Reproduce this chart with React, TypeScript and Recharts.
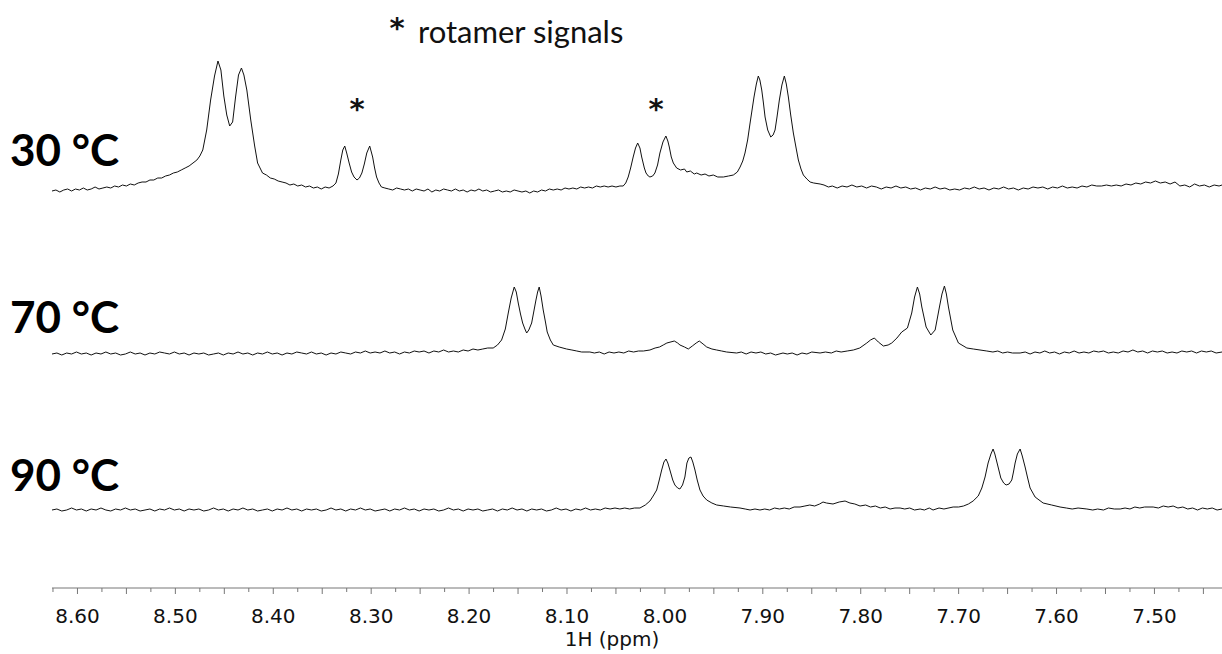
import React from 'react';
import { ComposedChart, Line, XAxis, YAxis } from 'recharts';

// [ppm, intensity] – intensity in a.u. above each trace's own baseline
const spectrum30C: [number, number][] = [
  [8.626,-1],[8.622,0],[8.618,-2],[8.614,0],[8.610,1],[8.606,-1],[8.602,1],[8.598,0],[8.594,2],[8.590,0],
  [8.586,1],[8.582,3],[8.578,1],[8.574,2],[8.570,3],[8.566,2],[8.562,4],[8.558,3],[8.554,5],[8.550,4],
  [8.546,6],[8.542,5],[8.538,7],[8.534,8],[8.530,8],[8.526,10],[8.522,10],[8.518,12],[8.514,12],[8.510,14],
  [8.506,15],[8.502,17],[8.498,18],[8.494,20],[8.490,22],[8.486,24],[8.482,27],[8.478,30],[8.475,34],[8.472,40],
  [8.468,60],[8.464,90],[8.460,114],[8.4565,129],[8.4535,120],[8.4505,94],[8.4475,75],[8.4445,64],[8.4415,68],[8.4385,93],
  [8.4355,115],[8.4325,122],[8.430,115],[8.427,100],[8.423,70],[8.419,44],[8.416,27],[8.411,17],[8.407,15],[8.403,12],
  [8.399,11],[8.395,9],[8.391,8],[8.387,7],[8.383,5],[8.379,6],[8.375,4],[8.371,5],[8.367,3],[8.363,4],
  [8.359,2],[8.355,3],[8.351,1],[8.347,3],[8.343,2],[8.339,4],[8.336,7],[8.3335,16],[8.331,30],[8.329,40],
  [8.327,44],[8.325,37],[8.3225,27],[8.320,18],[8.3175,13],[8.3145,10],[8.312,12],[8.3095,17],[8.307,26],[8.3045,37],
  [8.3015,44],[8.2985,33],[8.2965,22],[8.2945,13],[8.292,7],[8.2895,3],[8.286,2],[8.282,1],[8.278,0],[8.274,2],
  [8.270,1],[8.266,0],[8.262,1],[8.258,-1],[8.254,1],[8.250,0],[8.246,-1],[8.242,1],[8.238,-2],[8.234,0],
  [8.230,-1],[8.226,1],[8.222,0],[8.218,-1],[8.214,1],[8.210,-1],[8.206,0],[8.202,-2],[8.198,0],[8.194,-1],
  [8.190,1],[8.186,-1],[8.182,0],[8.178,-2],[8.174,-1],[8.170,0],[8.166,-2],[8.162,-1],[8.158,-2],[8.154,0],
  [8.150,-1],[8.146,-2],[8.142,-1],[8.138,-3],[8.134,-1],[8.130,-2],[8.126,0],[8.122,-1],[8.118,1],[8.114,0],
  [8.110,1],[8.106,0],[8.102,2],[8.098,1],[8.094,2],[8.090,1],[8.086,3],[8.082,2],[8.078,3],[8.074,2],
  [8.070,4],[8.066,3],[8.062,4],[8.058,3],[8.054,4],[8.050,3],[8.046,4],[8.0426,4],[8.040,7],[8.0375,13],
  [8.035,22],[8.0324,33],[8.030,42],[8.0278,47],[8.0255,42],[8.0237,33],[8.021,22],[8.0193,17],[8.017,14],[8.0153,13],
  [8.0125,14],[8.0102,17],[8.0075,25],[8.0051,37],[8.002,48],[7.999,54],[7.997,49],[7.9955,43],[7.9935,33],[7.9914,27],
  [7.988,22],[7.984,20],[7.980,21],[7.9777,18],[7.974,19],[7.970,16],[7.9675,17],[7.963,15],[7.959,16],[7.955,14],
  [7.9506,15],[7.946,13],[7.9403,13],[7.935,14],[7.9301,15],[7.926,18],[7.9232,23],[7.9205,29],[7.9182,37],[7.9155,50],
  [7.913,67],[7.909,93],[7.9066,106],[7.9046,114],[7.903,110],[7.9011,100],[7.8995,88],[7.8977,73],[7.895,60],[7.8919,53],
  [7.8895,55],[7.8875,60],[7.8855,73],[7.8831,90],[7.8805,105],[7.878,114],[7.876,106],[7.8739,93],[7.8715,75],[7.8688,57],
  [7.866,42],[7.8637,30],[7.861,21],[7.8586,15],[7.855,11],[7.8517,8],[7.848,7],[7.8415,6],[7.8375,5],[7.833,3],
  [7.829,4],[7.824,2],[7.819,4],[7.814,3],[7.809,5],[7.804,3],[7.799,4],[7.794,2],[7.789,4],[7.784,3],
  [7.779,1],[7.774,3],[7.769,2],[7.764,4],[7.759,2],[7.754,3],[7.749,1],[7.744,2],[7.739,0],[7.734,2],
  [7.729,1],[7.724,3],[7.719,1],[7.714,2],[7.709,0],[7.704,1],[7.699,0],[7.694,2],[7.689,1],[7.684,3],
  [7.679,1],[7.674,2],[7.669,0],[7.664,2],[7.659,1],[7.654,3],[7.649,1],[7.644,2],[7.639,0],[7.634,2],
  [7.629,1],[7.624,3],[7.619,2],[7.614,3],[7.609,1],[7.604,3],[7.599,2],[7.594,4],[7.589,2],[7.584,3],
  [7.579,2],[7.574,4],[7.569,3],[7.564,5],[7.559,4],[7.554,4],[7.549,5],[7.544,4],[7.539,5],[7.534,4],
  [7.529,6],[7.524,5],[7.519,7],[7.514,6],[7.509,8],[7.504,7],[7.499,9],[7.494,7],[7.489,8],[7.484,6],
  [7.479,8],[7.474,4],[7.469,5],[7.464,3],[7.459,6],[7.454,4],[7.449,5],[7.444,3],[7.439,5],[7.434,4],[7.431,5],
];

const spectrum70C: [number, number][] = [
  [8.626,0],[8.621,1],[8.616,-1],[8.611,1],[8.606,0],[8.601,2],[8.596,0],[8.591,1],[8.586,-1],[8.581,1],
  [8.576,0],[8.571,2],[8.566,0],[8.561,1],[8.556,-1],[8.551,0],[8.546,2],[8.541,0],[8.536,1],[8.531,-1],
  [8.526,1],[8.521,0],[8.516,2],[8.511,1],[8.506,0],[8.501,2],[8.496,0],[8.491,1],[8.486,-1],[8.481,1],
  [8.476,0],[8.471,1],[8.466,-1],[8.461,0],[8.456,1],[8.451,-1],[8.446,1],[8.441,0],[8.436,2],[8.431,0],
  [8.426,1],[8.421,-1],[8.416,1],[8.411,0],[8.406,2],[8.401,0],[8.396,1],[8.391,-1],[8.386,1],[8.381,0],
  [8.376,2],[8.371,1],[8.366,0],[8.361,2],[8.356,0],[8.351,1],[8.346,-1],[8.341,1],[8.336,0],[8.331,2],
  [8.326,1],[8.321,0],[8.316,2],[8.311,1],[8.306,3],[8.301,1],[8.296,2],[8.291,1],[8.286,3],[8.281,1],
  [8.276,2],[8.271,0],[8.266,2],[8.261,1],[8.256,3],[8.251,2],[8.246,3],[8.241,1],[8.236,3],[8.231,2],
  [8.226,4],[8.221,2],[8.216,3],[8.211,2],[8.206,4],[8.201,3],[8.196,5],[8.191,4],[8.186,5],[8.181,6],
  [8.1754,6],[8.171,9],[8.1668,14],[8.163,25],[8.160,41],[8.157,56],[8.1539,67],[8.1518,62],[8.1498,51],[8.1475,40],
  [8.1453,31],[8.143,25],[8.1412,21],[8.139,24],[8.1361,31],[8.134,42],[8.1317,54],[8.130,62],[8.1284,67],[8.1265,58],
  [8.1243,44],[8.122,32],[8.1202,22],[8.117,14],[8.114,9],[8.108,7],[8.1004,5],[8.095,4],[8.090,3],[8.085,2],
  [8.0766,2],[8.072,1],[8.067,2],[8.062,0],[8.057,2],[8.052,1],[8.047,2],[8.042,1],[8.037,3],[8.032,2],
  [8.027,3],[8.022,3],[8.0153,4],[8.010,6],[8.0055,7],[8.0017,9],[7.998,11],[7.9904,13],[7.987,11],[7.9846,9],
  [7.980,7],[7.9761,5],[7.972,8],[7.968,11],[7.9649,13],[7.961,10],[7.9573,7],[7.952,5],[7.9471,4],[7.942,3],
  [7.937,2],[7.9267,1],[7.922,2],[7.917,0],[7.912,2],[7.907,1],[7.902,2],[7.897,0],[7.892,1],[7.887,-1],
  [7.8794,1],[7.875,0],[7.870,1],[7.865,-1],[7.860,1],[7.855,0],[7.850,2],[7.8415,1],[7.836,2],[7.830,1],
  [7.825,3],[7.820,2],[7.8138,3],[7.8075,4],[7.801,6],[7.7938,11],[7.790,14],[7.7861,16],[7.782,12],[7.7769,8],
  [7.772,9],[7.7683,11],[7.763,16],[7.7581,22],[7.7523,26],[7.7479,41],[7.745,57],[7.7421,67],[7.7398,60],[7.7376,47],
  [7.7332,27],[7.7284,19],[7.724,24],[7.7196,47],[7.717,60],[7.7145,68],[7.7125,60],[7.7104,47],[7.706,24],[7.7002,11],
  [7.6916,6],[7.685,5],[7.6712,3],[7.665,2],[7.660,3],[7.655,1],[7.650,2],[7.645,1],[7.6372,1],[7.632,2],
  [7.627,0],[7.622,2],[7.617,1],[7.612,3],[7.607,1],[7.602,2],[7.597,0],[7.592,2],[7.587,1],[7.582,3],
  [7.577,1],[7.572,2],[7.567,1],[7.562,3],[7.557,2],[7.552,3],[7.547,1],[7.542,2],[7.537,1],[7.532,3],
  [7.527,2],[7.522,4],[7.517,2],[7.512,3],[7.507,1],[7.502,3],[7.497,2],[7.492,3],[7.487,1],[7.482,2],
  [7.477,1],[7.472,3],[7.467,2],[7.462,3],[7.457,1],[7.452,3],[7.447,2],[7.442,3],[7.437,1],[7.431,2],
];

const spectrum90C: [number, number][] = [
  [8.626,0],[8.621,1],[8.616,-1],[8.611,0],[8.606,2],[8.601,0],[8.596,1],[8.591,-1],[8.586,1],[8.581,0],
  [8.576,2],[8.571,0],[8.566,-1],[8.561,1],[8.556,0],[8.551,2],[8.546,0],[8.541,1],[8.536,-1],[8.531,0],
  [8.526,1],[8.521,-1],[8.516,1],[8.511,0],[8.506,2],[8.501,0],[8.496,1],[8.491,-1],[8.486,1],[8.481,0],
  [8.476,1],[8.471,-1],[8.466,0],[8.461,2],[8.456,0],[8.451,1],[8.446,-1],[8.441,1],[8.436,0],[8.431,2],
  [8.426,0],[8.421,1],[8.416,-1],[8.411,0],[8.406,1],[8.401,-1],[8.396,1],[8.391,0],[8.386,2],[8.381,0],
  [8.376,1],[8.371,-1],[8.366,1],[8.361,0],[8.356,1],[8.351,-1],[8.346,0],[8.341,2],[8.336,0],[8.331,1],
  [8.326,-1],[8.321,1],[8.316,0],[8.311,2],[8.306,0],[8.301,1],[8.296,-1],[8.291,0],[8.286,1],[8.281,-1],
  [8.276,1],[8.271,0],[8.266,2],[8.261,0],[8.256,1],[8.251,-1],[8.246,1],[8.241,0],[8.236,1],[8.231,-1],
  [8.226,0],[8.221,2],[8.216,0],[8.211,1],[8.206,-1],[8.201,1],[8.196,0],[8.191,1],[8.186,-1],[8.181,0],
  [8.176,1],[8.171,-1],[8.166,1],[8.161,0],[8.156,2],[8.151,0],[8.146,1],[8.141,-1],[8.136,1],[8.131,0],
  [8.126,1],[8.121,-1],[8.116,0],[8.111,2],[8.106,0],[8.101,1],[8.096,-1],[8.091,1],[8.086,0],[8.081,2],
  [8.076,0],[8.071,1],[8.066,0],[8.061,2],[8.056,1],[8.051,2],[8.046,1],[8.041,2],[8.036,1],[8.031,2],
  [8.0255,2],[8.020,5],[8.0153,9],[8.012,14],[8.0084,20],[8.006,29],[8.0033,40],[8.001,48],[7.9989,51],[7.997,47],
  [7.9949,40],[7.992,30],[7.9898,25],[7.987,22],[7.9847,21],[7.982,25],[7.9796,33],[7.9775,47],[7.9755,52],[7.9734,53],
  [7.9715,48],[7.9693,40],[7.967,30],[7.9642,20],[7.961,14],[7.9573,10],[7.952,7],[7.9471,5],[7.940,4],[7.933,3],
  [7.9233,2],[7.918,1],[7.913,0],[7.908,1],[7.9029,0],[7.898,1],[7.893,0],[7.888,2],[7.883,1],[7.878,2],
  [7.873,1],[7.868,3],[7.862,3],[7.857,4],[7.852,5],[7.847,4],[7.842,6],[7.8385,8],[7.835,7],[7.8283,6],
  [7.822,8],[7.816,9],[7.811,7],[7.806,6],[7.8007,4],[7.795,5],[7.790,3],[7.785,4],[7.780,2],[7.775,3],
  [7.770,1],[7.765,2],[7.7598,2],[7.755,1],[7.750,2],[7.745,0],[7.7393,1],[7.735,0],[7.730,2],[7.7261,0],
  [7.720,2],[7.715,1],[7.7056,3],[7.700,3],[7.695,4],[7.690,6],[7.6852,9],[7.680,14],[7.6763,22],[7.673,33],
  [7.6699,47],[7.667,56],[7.6648,61],[7.663,56],[7.6607,47],[7.6569,32],[7.654,27],[7.6515,25],[7.6485,26],[7.6457,30],
  [7.644,38],[7.6423,47],[7.640,56],[7.6372,61],[7.635,54],[7.6321,43],[7.6295,32],[7.627,22],[7.6219,13],[7.6137,7],
  [7.605,5],[7.5964,3],[7.590,2],[7.584,1],[7.578,2],[7.569,1],[7.563,0],[7.558,1],[7.552,0],[7.547,2],
  [7.541,1],[7.535,1],[7.530,2],[7.525,1],[7.520,3],[7.515,2],[7.510,3],[7.5013,3],[7.496,2],[7.491,4],
  [7.486,3],[7.4809,4],[7.476,2],[7.471,3],[7.466,1],[7.461,2],[7.456,0],[7.451,2],[7.446,1],[7.441,2],[7.436,0],[7.431,1],
];

const ppmRange = [7.431, 8.626];
const axisTicks = Array.from({ length: 48 }, (_, i) => +(7.45 + i * 0.025).toFixed(3));
const traceLabels = ['30 °C', '70 °C', '90 °C'];

const toRows = (s: [number, number][]) => s.map(([ppm, v]) => ({ ppm, v }));

const PpmTick = (props: any) => {
  const { x, y, payload } = props;
  const k = Math.round(payload.value * 1000);
  const major = k % 50 === 0;
  const labeled = k % 100 === 0;
  return (
    <g>
      <line x1={x} x2={x} y1={y} y2={y + (major ? 6 : 4)} stroke="#777" />
      {labeled && (
        <text x={x} y={y + 35} textAnchor="middle" fontFamily="DejaVu Sans" fontSize={20} fill="#111">
          {payload.value.toFixed(2)}
        </text>
      )}
    </g>
  );
};

export default function App() {
  return (
    <div style={{ position: 'absolute', left: 0, top: 0, width: 1222, height: 654, background: '#fff' }}>
      <ComposedChart width={1222} height={654} margin={{ top: 40, right: 0, bottom: 0, left: 52 }}>
        <XAxis
          type="number"
          dataKey="ppm"
          domain={ppmRange}
          reversed
          allowDataOverflow
          ticks={axisTicks}
          interval={0}
          tickSize={0}
          tickMargin={0}
          tick={<PpmTick />}
          axisLine={{ stroke: '#777' }}
          height={66}
        />
        {/* one hidden y axis per trace, stacked by domain offset */}
        <YAxis yAxisId="t30" hide domain={[-398, 150]} allowDataOverflow />
        <YAxis yAxisId="t70" hide domain={[-234, 314]} allowDataOverflow />
        <YAxis yAxisId="t90" hide domain={[-78, 470]} allowDataOverflow />
        <Line yAxisId="t30" data={toRows(spectrum30C)} dataKey="v" type="linear" dot={false} stroke="#111" strokeWidth={1} isAnimationActive={false} />
        <Line yAxisId="t70" data={toRows(spectrum70C)} dataKey="v" type="linear" dot={false} stroke="#111" strokeWidth={1} isAnimationActive={false} />
        <Line yAxisId="t90" data={toRows(spectrum90C)} dataKey="v" type="linear" dot={false} stroke="#111" strokeWidth={1} isAnimationActive={false} />
      </ComposedChart>
      <svg width={1222} height={654} style={{ position: 'absolute', left: 0, top: 0, pointerEvents: 'none' }}>
        <text x={397} y={38} textAnchor="middle" fontFamily="DejaVu Sans" fontWeight={700} fontSize={29} fill="#111">*</text>
        <text x={418} y={43} fontFamily="Lato" fontSize={31} fill="#111">rotamer signals</text>
        <text x={357} y={119} textAnchor="middle" fontFamily="DejaVu Sans" fontWeight={700} fontSize={29} fill="#111">*</text>
        <text x={656} y={119} textAnchor="middle" fontFamily="DejaVu Sans" fontWeight={700} fontSize={29} fill="#111">*</text>
        <text x={10} y={166} fontFamily="Lato" fontWeight={700} fontSize={44} fill="#000">{traceLabels[0]}</text>
        <text x={10} y={333} fontFamily="Lato" fontWeight={700} fontSize={44} fill="#000">{traceLabels[1]}</text>
        <text x={10} y={491} fontFamily="Lato" fontWeight={700} fontSize={44} fill="#000">{traceLabels[2]}</text>
        <text x={612} y={646} textAnchor="middle" fontFamily="DejaVu Sans" fontSize={20} fill="#111">1H (ppm)</text>
      </svg>
    </div>
  );
}
